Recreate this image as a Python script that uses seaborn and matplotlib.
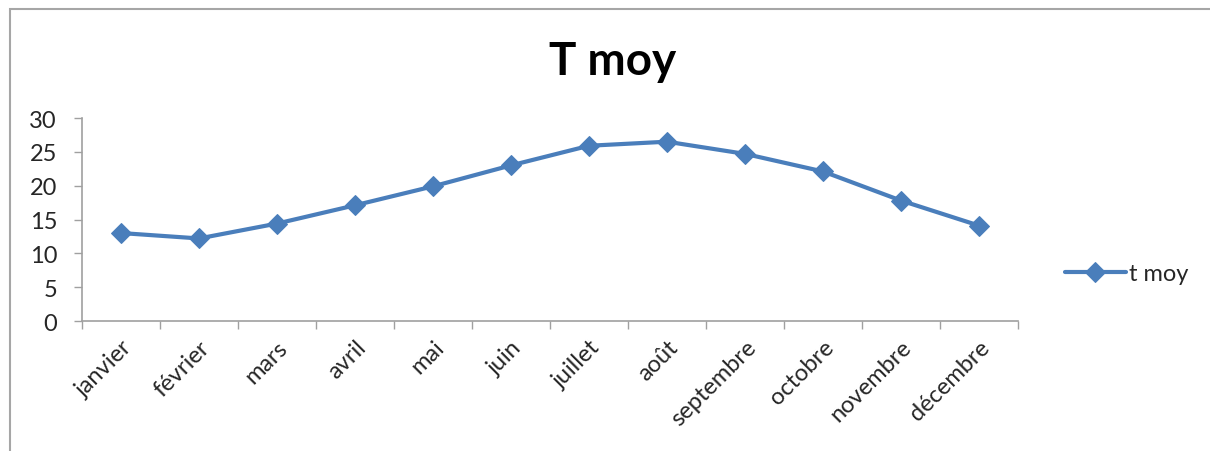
import matplotlib
matplotlib.use("Agg")
import matplotlib.pyplot as plt
from matplotlib.patches import Rectangle
from matplotlib.ticker import FixedLocator
import seaborn as sns
import pandas as pd

mois = ["janvier", "février", "mars", "avril", "mai", "juin", "juillet",
        "août", "septembre", "octobre", "novembre", "décembre"]
t_moy = [13.0, 12.2, 14.4, 17.1, 19.9, 23.0, 25.9, 26.5, 24.7, 22.1, 17.8, 14.1]
y_ticks = [0, 5, 10, 15, 20, 25, 30]

sns.set_theme(style="white")
plt.rcParams["font.family"] = ["Lato", "DejaVu Sans"]

df = pd.DataFrame({"mois": mois, "t moy": t_moy})

fig = plt.figure(figsize=(12.1, 4.52), dpi=100)
ax = fig.add_axes([0.0678, 0.2876, 0.7735, 0.4491])

blue = "#4a7ebb"
sns.lineplot(data=df, x="mois", y="t moy", ax=ax, sort=False, color=blue,
             linewidth=3, marker="D", markersize=10, markeredgecolor=blue,
             label="t moy")

ax.set_xlim(-0.5, len(mois) - 0.5)
ax.set_ylim(0, 30)
ax.set_yticks(y_ticks)
ax.set_xlabel("")
ax.set_ylabel("")

# category labels at centres, tick marks at category boundaries
ax.set_xticks(range(len(mois)))
ax.set_xticklabels(mois, rotation=45, ha="right", rotation_mode="anchor",
                   fontsize=17, color="#262626")
ax.xaxis.set_minor_locator(FixedLocator([i - 0.5 for i in range(len(mois) + 1)]))
ax.tick_params(axis="x", which="major", length=0, pad=11)
ax.tick_params(axis="x", which="minor", length=6, width=1, color="#a0a0a0",
               direction="out", bottom=True)
ax.tick_params(axis="y", which="major", length=6, width=1, color="#a0a0a0",
               direction="out", left=True, labelsize=17, labelcolor="#262626",
               pad=12)

for side in ["top", "right"]:
    ax.spines[side].set_visible(False)
for side in ["left", "bottom"]:
    ax.spines[side].set_color("#a0a0a0")
    ax.spines[side].set_linewidth(1.2)

fig.suptitle("T moy", x=0.506, y=0.91, fontsize=33, fontweight="bold",
             color="black")

ax.legend(loc="center left", bbox_to_anchor=(0.872, 0.392),
          bbox_transform=fig.transFigure, frameon=False, fontsize=17,
          handlelength=2.6, handletextpad=0.15, borderaxespad=0)

# chart area frame
fig.patches.append(Rectangle((10 / 1210, -0.1), 1.2, 1 - 10 / 452 + 0.1,
                             transform=fig.transFigure, fill=False,
                             edgecolor="#a6a6a6", linewidth=1.5))

fig.savefig("out.png", dpi=100)
